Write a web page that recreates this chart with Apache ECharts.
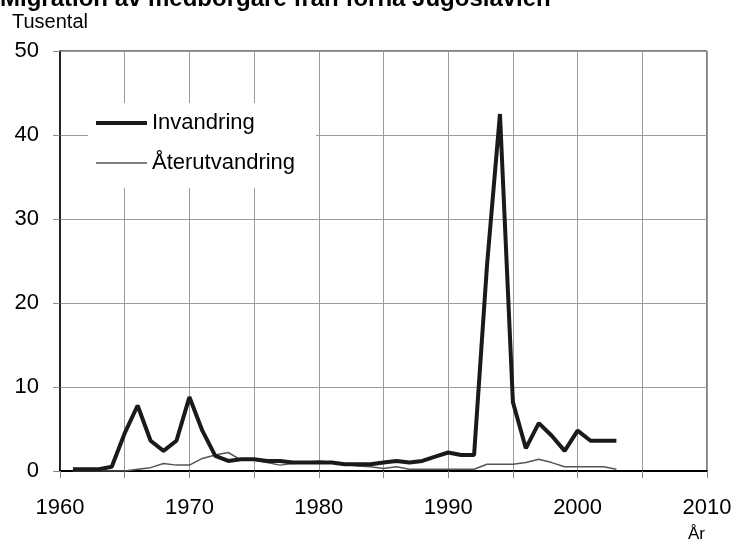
<!DOCTYPE html>
<html>
<head>
<meta charset="utf-8">
<script src="https://cdn.jsdelivr.net/npm/echarts@6/dist/echarts.min.js"></script>
<style>
  html, body { margin: 0; padding: 0; background: #fff; }
  #chart { width: 735px; height: 544px; }
</style>
</head>
<body>
<div id="chart"></div>
<script>
// years 1961..2003, values in thousands (Tusental)
const years = [
  1961, 1962, 1963, 1964, 1965, 1966, 1967, 1968, 1969, 1970,
  1971, 1972, 1973, 1974, 1975, 1976, 1977, 1978, 1979, 1980,
  1981, 1982, 1983, 1984, 1985, 1986, 1987, 1988, 1989, 1990,
  1991, 1992, 1993, 1994, 1995, 1996, 1997, 1998, 1999, 2000,
  2001, 2002, 2003
];
const invandring = [
  0.2, 0.2, 0.2, 0.5, 4.5, 7.8, 3.6, 2.4, 3.6, 8.8,
  4.8, 1.8, 1.2, 1.4, 1.4, 1.2, 1.2, 1.0, 1.0, 1.0,
  1.0, 0.8, 0.8, 0.8, 1.0, 1.2, 1.0, 1.2, 1.7, 2.2,
  1.9, 1.9, 24.5, 42.5, 8.2, 2.7, 5.7, 4.2, 2.4, 4.8,
  3.6, 3.6, 3.6
];
const aterutvandring = [
  0, 0, 0, 0, 0, 0.2, 0.4, 0.9, 0.7, 0.7,
  1.5, 1.9, 2.2, 1.3, 1.3, 1.0, 0.7, 0.9, 1.0, 1.2,
  1.0, 0.8, 0.6, 0.5, 0.3, 0.5, 0.2, 0.2, 0.2, 0.2,
  0.2, 0.2, 0.8, 0.8, 0.8, 1.0, 1.4, 1.0, 0.5, 0.5,
  0.5, 0.5, 0.2
];

const FONT = 'Liberation Sans, Arial, sans-serif';
const DARK = '#1a1a1a';
const GREY = '#555';

function pairs(vals) {
  return years.map((y, i) => [y, vals[i]]);
}

const chart = echarts.init(document.getElementById('chart'));

// one legend per entry so each icon can get its own thickness
function legendFor(name, top, thick, color) {
  return {
    orient: 'vertical',
    left: 96, top: top,
    padding: 0,
    icon: 'rect',
    itemWidth: 51,
    itemHeight: thick,
    itemStyle: { color: color },
    textStyle: { fontSize: 22, fontFamily: FONT, color: '#000' },
    data: [name]
  };
}

const option = {
  animation: false,
  backgroundColor: '#fff',
  grid: {
    left: 60, right: 28, top: 51, bottom: 73,
    show: true, borderColor: '#000', borderWidth: 1
  },
  graphic: [
    {
      type: 'text', left: 0, top: -13, z: 10,
      style: { text: 'Migration av medborgare från forna Jugoslavien', font: 'bold 24px ' + FONT, fill: '#000' }
    },
    {
      type: 'text', left: 12, top: 12, z: 10,
      style: { text: 'Tusental', font: '20px ' + FONT, fill: '#000' }
    },
    {
      type: 'text', left: 688, top: 526, z: 10,
      style: { text: 'År', font: '17px ' + FONT, fill: '#000' }
    },
    {
      // white box behind the legend, hides the grid lines
      type: 'rect', z: 3,
      shape: { x: 88, y: 103, width: 228, height: 85 },
      style: { fill: '#fff' }
    }
  ],
  legend: [
    legendFor('Invandring', 112, 4, DARK),
    legendFor('Återutvandring', 152, 1.5, GREY)
  ],
  xAxis: {
    type: 'value',
    min: 1960, max: 2010, interval: 5,
    axisLine: { show: true, lineStyle: { color: '#000', width: 2 } },
    axisTick: { show: true, length: 7, lineStyle: { color: '#888' } },
    splitLine: { show: true, lineStyle: { color: '#9a9a9a', width: 1 } },
    axisLabel: {
      margin: 26, fontSize: 22, fontFamily: FONT, color: '#000',
      formatter: v => (v % 10 === 0 ? String(v) : '')
    }
  },
  yAxis: {
    type: 'value',
    min: 0, max: 50, interval: 10,
    axisLine: { show: true, lineStyle: { color: '#000', width: 1.5 } },
    axisTick: { show: true, length: 7, lineStyle: { color: '#888' } },
    splitLine: { show: true, lineStyle: { color: '#9a9a9a', width: 1 } },
    axisLabel: { margin: 21, fontSize: 22, fontFamily: FONT, color: '#000' }
  },
  series: [
    {
      name: 'Återutvandring',
      type: 'line',
      data: pairs(aterutvandring),
      showSymbol: false,
      symbol: 'none',
      lineStyle: { color: GREY, width: 1.5 },
      itemStyle: { color: GREY },
      z: 2
    },
    {
      name: 'Invandring',
      type: 'line',
      data: pairs(invandring),
      showSymbol: false,
      symbol: 'none',
      lineStyle: { color: DARK, width: 4 },
      itemStyle: { color: DARK },
      z: 3
    }
  ]
};

chart.setOption(option);
</script>
</body>
</html>
